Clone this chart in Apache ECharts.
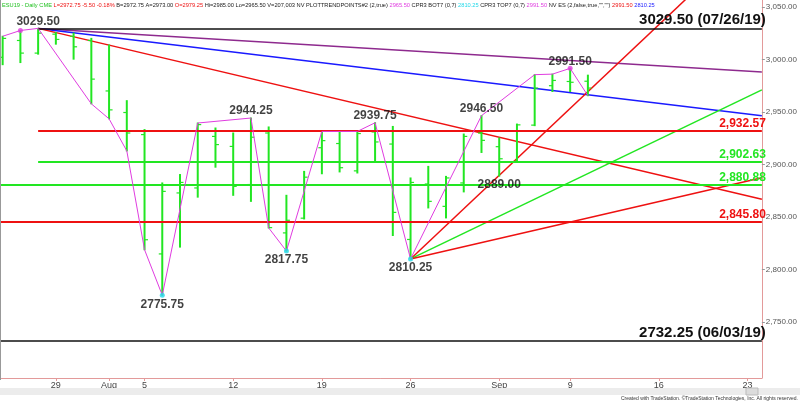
<!DOCTYPE html>
<html><head><meta charset="utf-8">
<script src="https://cdn.jsdelivr.net/npm/echarts@6/dist/echarts.min.js"></script>
<style>html,body{margin:0;padding:0;background:#fff}#c{width:800px;height:402px}</style>
</head><body><div id="c"></div>
<script>
// ---- data ----
const dates = ['07/24','07/25','07/26','07/29','07/30','07/31','08/01','08/02','08/05','08/06','08/07','08/08','08/09','08/12','08/13','08/14','08/15','08/16','08/19','08/20','08/21','08/22','08/23','08/26','08/27','08/28','08/29','08/30','09/03','09/04','09/05','09/06','09/09','09/10'];
const opens  = [3002,3018,3006,3024,3022,3018,2970,2949.5,2928.5,2815,2873,2877.75,2926.75,2917.25,2881,2930,2835,2849,2916,2920,2894,2931,2919.5,2828.75,2881.5,2860.25,2882.5,2930,2917,2903,2937.5,2975,2979,2979.25];
const highs  = [3022,3027.5,3029.5,3025.5,3025,3020,3013.75,2960.75,2933.25,2882.5,2890.5,2939.5,2934.75,2930,2944.25,2935.75,2870.75,2893.5,2931.5,2930.5,2931.5,2939.75,2936.25,2887.25,2898.25,2888.75,2929,2946.5,2925.25,2938.5,2985.5,2986,2991.5,2985];
const lows   = [2995,2997,3005,3014.5,3000.25,2957.75,2943.5,2913,2819,2775.75,2821.5,2869,2897.5,2870.75,2865,2839.75,2817.75,2848.25,2891.25,2893,2892,2902.5,2832.5,2810.25,2858.75,2849.25,2874,2911.5,2889,2902.5,2937,2969.5,2969.5,2965.5];
const closes = [3020,3006,3025,3019,3012,2981.25,2952,2930,2828.5,2874.5,2883,2938,2919,2879.25,2926,2840,2847,2888,2922.75,2897,2929.5,2921.5,2854.5,2883,2865,2887.25,2926.75,2923,2905.5,2937.75,2972.75,2980,2978.25,2972.75];
const lastPrice = 2972.75;

const xTickIdx    = [3,6,8,13,18,23,28,32,37,42];
const xTickLabels = ['29','Aug','5','12','19','26','Sep','9','16','23'];
const yTicks = [2750,2800,2850,2900,2950,3000,3050];
const xMin = -0.15, xMax = 42.81, yMin = 2697, yMax = 3056.5;

// swing line (trading-day index, price)
const swingIdx = [0,1,2,5,6,7,8,9,11,14,15,16,18,20,21,23,27,30,31,32,33];
const swingVal = [3022,3027.5,3029.5,2957.75,2943.5,2913,2819,2775.75,2939.5,2944.25,2839.75,2817.75,2931.5,2931.5,2939.75,2810.25,2946.5,2985.5,2986,2991.5,2965.5];

// labelled pivots
const pivotIdx = [2,9,14,16,21,23,27,28,32];
const pivotVal = [3029.50,2775.75,2944.25,2817.75,2939.75,2810.25,2946.50,2889.00,2991.50];
const pivotSide= ['top','bottom','top','bottom','top','bottom','top','bottom','top'];
const highDotIdx = [1,32], highDotVal = [3027.5,2991.5];
const lowDotIdx = [9,16,23], lowDotVal = [2775.75,2817.75,2810.25];

// horizontal levels
const levelVal  = [3029.50,2932.57,2902.63,2880.88,2845.80,2732.25];
const levelFrom = [2,2,2,xMin,xMin,xMin];
const levelText = ['3029.50 (07/26/19)','2,932.57','2,902.63','2,880.88','2,845.80','2732.25 (06/03/19)'];

// trend lines [x1,y1,x2,y2]
const trendPurple = [2,3029.5,42.81,2988];
const trendBlue   = [2,3029.5,42.81,2946.5];
const trendRedDn  = [2,3029.5,42.81,2867];
const trendRedUp  = [23,2810.25,40,3080.7];
const trendGreen  = [23,2810.25,42.81,2971];
const trendRedLow = [23,2810.25,42.81,2887.5];

// header text pieces
const headerParts = [
  ['g','ESU19 - Daily CME'],['r','L=2972.75 -5.50 -0.18%'],['k','B=2972.75 A=2973.00'],['r','O=2979.25'],
  ['k','Hi=2985.00 Lo=2965.50 V=207,003 NV PLOTTRENDPOINTS#2 (2,true)'],['m','2965.50'],['k','CPR3 BOT7 (0,7)'],
  ['c','2810.25'],['k','CPR3 TOP7 (0,7)'],['m','2991.50'],['k','NV ES (2,false,true,"","")'],['r','2991.50'],['b','2810.25']
];
const copyright = 'Created with TradeStation. ©TradeStation Technologies, Inc. All rights reserved.';

// ---- styles ----
const GREEN = '#22e622', RED = '#ee1111', BLUE = '#1a1aff', PURPLE = '#8e2a8e', MAG = '#e03ce0', CYAN = '#22d8e8';
const levelColor = ['#111', RED, GREEN, GREEN, RED, '#111'];
const levelSize = [15,12,12,12,12,15];
const FONT = 'Liberation Sans, Arial, sans-serif';

const chart = echarts.init(document.getElementById('c'), null, {renderer:'canvas'});

function tl(arr, color, w) {
  return {type:'line', data:[[arr[0],arr[1]],[arr[2],arr[3]]], symbol:'none', silent:true,
    lineStyle:{color:color, width:w}, clip:true, z:3, animation:false};
}
function fmt(v){ return v.toLocaleString('en-US',{minimumFractionDigits:2, maximumFractionDigits:2}); }

const ohlc = dates.map((d,i)=>[i, opens[i], highs[i], lows[i], closes[i]]);

const levelLines = levelVal.map((v,i)=>[
  {coord:[levelFrom[i], v], lineStyle:{color:levelColor[i], width: i===0||i===5 ? 1.5 : 2, type:'solid'},
   label:{show:true, position:'insideEndTop', formatter: levelText[i], color: levelColor[i],
     fontFamily:FONT, fontWeight:'bold', fontSize: levelSize[i], distance: 1, padding:0, offset:[5,0]}},
  {coord:[xMax, v]}
]);

const hdrColors = {g:'#20c020', r:RED, k:'#222', m:MAG, c:CYAN, b:BLUE};
const hdrRich = {};
Object.keys(hdrColors).forEach(k=>{ hdrRich[k] = {fill:hdrColors[k], fontSize:5.7, fontFamily:FONT}; });
const hdrText = headerParts.map(p=>'{'+p[0]+'|'+p[1]+'}').join('{k| }');

const option = {
  animation:false,
  backgroundColor:'#fff',
  grid:{left:0, right:31, top:0, bottom:24, containLabel:false},
  xAxis:{type:'value', min:xMin, max:xMax, splitLine:{show:false},
    axisLine:{show:true, onZero:false, lineStyle:{color:'#e39a9a', width:1}},
    axisTick:{show:true, customValues:xTickIdx, length:3, lineStyle:{color:'#e39a9a'}},
    axisLabel:{customValues:xTickIdx, formatter:(v)=>{const k=xTickIdx.indexOf(Math.round(v)); return k>=0?xTickLabels[k]:'';},
      color:'#444', fontSize:9, fontFamily:FONT, margin:3}},
  yAxis:{type:'value', position:'right', min:yMin, max:yMax, scale:true, splitLine:{show:false},
    axisLine:{show:true, onZero:false, lineStyle:{color:'#e39a9a', width:1}},
    axisTick:{show:true, customValues:yTicks, length:3, lineStyle:{color:'#999'}},
    axisLabel:{customValues:yTicks, formatter:fmt, color:'#555', fontSize:8, fontFamily:FONT, margin:4}},
  series:[
    {type:'line', data:[], symbol:'none', silent:true, z:2,
     markLine:{symbol:'none', silent:true, animation:false, data:levelLines}},
    tl(trendPurple, PURPLE, 1.5),
    tl(trendBlue, BLUE, 1.5),
    tl(trendRedDn, RED, 1.5),
    tl(trendRedUp, RED, 1.5),
    tl(trendGreen, GREEN, 1.5),
    tl(trendRedLow, RED, 1.5),
    {type:'custom', data:ohlc, encode:{x:0, y:[1,2,3,4]}, z:4, clip:true,
     renderItem:(params, api)=>{
       const x=api.value(0);
       const pH=api.coord([x,api.value(2)]), pL=api.coord([x,api.value(3)]);
       const pO=api.coord([x,api.value(1)]), pC=api.coord([x,api.value(4)]);
       const st={stroke:GREEN, lineWidth:2};
       return {type:'group', children:[
         {type:'line', shape:{x1:pH[0],y1:pH[1]-0.5,x2:pL[0],y2:pL[1]+0.5}, style:st},
         {type:'line', shape:{x1:pO[0]-3.5,y1:pO[1],x2:pO[0],y2:pO[1]}, style:{stroke:GREEN,lineWidth:1.2}},
         {type:'line', shape:{x1:pC[0],y1:pC[1],x2:pC[0]+3.5,y2:pC[1]}, style:{stroke:GREEN,lineWidth:1.2}}
       ]};
     },
     markLine:{symbol:'none', silent:true, animation:false,
       data:[{yAxis:lastPrice, lineStyle:{opacity:0},
         label:{show:true, position:'end', formatter:fmt(lastPrice), color:'#d8ffd8', backgroundColor:'#19e619',
           fontSize:8, fontFamily:FONT, padding:[2,2,1,2], distance:2}}]}},
    {type:'line', data:swingIdx.map((x,i)=>[x,swingVal[i]]), symbol:'none', silent:true, z:5,
     lineStyle:{color:MAG, width:1}},
    {type:'scatter', data:highDotIdx.map((x,i)=>[x,highDotVal[i]]), symbolSize:5, z:6, silent:true,
     itemStyle:{color:MAG}},
    {type:'scatter', data:lowDotIdx.map((x,i)=>[x,lowDotVal[i]]), symbolSize:5, z:6, silent:true,
     itemStyle:{color:CYAN}},
    {type:'scatter', symbolSize:0, z:7, silent:true,
     data:pivotIdx.map((x,i)=>({value:[x,pivotVal[i]],
       label:{show:true, position:pivotSide[i], distance:pivotSide[i]==='top'?1:3, formatter:pivotVal[i].toFixed(2),
         color:'#111', fontWeight:'bold', fontSize:12, fontFamily:FONT}}))}
  ],
  graphic:[
    {type:'line', shape:{x1:0.5,y1:0,x2:0.5,y2:380}, style:{stroke:'#999', lineWidth:1}, z:10},
    {type:'rect', shape:{x:0,y:388,width:800,height:7}, style:{fill:'#ececec'}, z:10},
    {type:'rect', shape:{x:746,y:388,width:12,height:7}, style:{fill:'#dcdcdc', stroke:'#bbb', lineWidth:1}, z:11},
    {type:'text', x:798, y:396, style:{text:copyright, fontSize:5, fontFamily:FONT, fill:'#333', align:'right', verticalAlign:'top'}, z:10},
    {type:'text', x:2, y:2, z:10, style:{text:hdrText, rich:hdrRich, fontSize:5.7, fontFamily:FONT, verticalAlign:'top'}}
  ]
};
chart.setOption(option);
</script></body></html>
